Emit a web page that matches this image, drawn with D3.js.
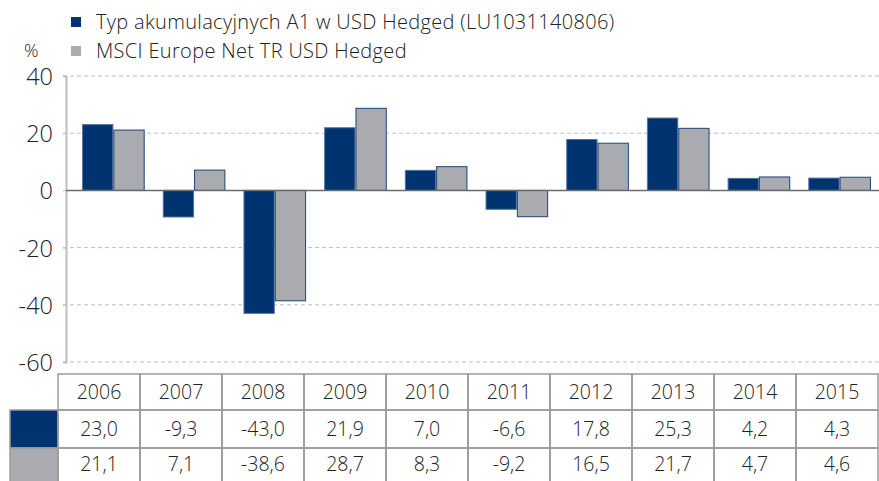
<!DOCTYPE html>
<html><head><meta charset="utf-8">
<script src="https://cdn.jsdelivr.net/npm/d3@7"></script>
<style>
html,body{margin:0;padding:0;background:#fff;}
svg text{font-family:"Open Sans","Liberation Sans",Arial,sans-serif;font-weight:300;fill:#222;}
</style></head>
<body>
<svg id="c" width="879" height="481"></svg>
<script>
const years = ["2006","2007","2008","2009","2010","2011","2012","2013","2014","2015"];
const fundValues = [23.0,-9.3,-43.0,21.9,7.0,-6.6,17.8,25.3,4.2,4.3];
const indexValues = [21.1,7.1,-38.6,28.7,8.3,-9.2,16.5,21.7,4.7,4.6];
const seriesNames = ["Typ akumulacyjnych A1 w USD Hedged (LU1031140806)","MSCI Europe Net TR USD Hedged"];
const yTicks = [40,20,0,-20,-40,-60];
const fundLabels = ["23,0","-9,3","-43,0","21,9","7,0","-6,6","17,8","25,3","4,2","4,3"];
const indexLabels = ["21,1","7,1","-38,6","28,7","8,3","-9,2","16,5","21,7","4,7","4,6"];

const colors = ["#003370","#a9abb0"];
const strokes = ["#4f73a3","#1d4478"];

const svg = d3.select("#c");
const y = d3.scaleLinear().domain([-60,40]).range([362,76]);
const x = d3.scaleBand().domain(years).range([64,889]).paddingInner(0.224).paddingOuter(0.224);
const xs = d3.scaleBand().domain([0,1]).range([0,x.bandwidth()]);

const plotL = 66, plotR = 879;

// gridlines
svg.append("g").selectAll("line").data(yTicks.filter(d=>d!==0)).join("line")
  .attr("x1",63).attr("x2",plotR).attr("y1",d=>y(d)).attr("y2",d=>y(d))
  .attr("stroke","#bdbdbd").attr("stroke-width",1).attr("stroke-dasharray","4,3");

// axis
const axis = d3.axisLeft(y).tickValues(yTicks).tickSize(3).tickFormat(d=>String(d));
const ag = svg.append("g").attr("transform",`translate(${plotL},0)`).call(axis);
ag.attr("font-family",null).attr("font-size",null);
ag.select(".domain").attr("stroke","#bdbdbd").attr("stroke-width",2);
ag.selectAll(".tick line").attr("stroke","#bdbdbd");
ag.selectAll(".tick text").attr("x",-13).attr("dy","0.36em")
  .style("font-size","23.5px").style("fill","#222");

// bars
const series = [fundValues,indexValues];
series.forEach((vals,si)=>{
  svg.append("g").selectAll("rect").data(vals).join("rect")
    .attr("x",(d,i)=>x(years[i])+xs(si)+0.5)
    .attr("width",xs.bandwidth()-1)
    .attr("y",d=>Math.min(y(d),y(0)))
    .attr("height",d=>Math.abs(y(d)-y(0)))
    .attr("fill",colors[si]).attr("stroke",strokes[si]).attr("stroke-width",1);
});

// zero line
svg.append("line").attr("x1",plotL).attr("x2",plotR).attr("y1",y(0)).attr("y2",y(0))
  .attr("stroke","#6b6b6b").attr("stroke-width",1.5);

// legend
const lg = svg.append("g");
seriesNames.forEach((n,i)=>{
  const cy = 22 + i*29;
  lg.append("rect").attr("x",71).attr("y",cy-5).attr("width",10).attr("height",10).attr("fill",colors[i]);
  lg.append("text").attr("x",96).attr("y",cy).attr("dy","0.36em").style("font-size","20px")
    .style("letter-spacing","0.33px").text(n);
});
svg.append("text").attr("x",24).attr("y",51).attr("dy","0.36em").style("font-size","18px").text("%");

// table
const tx = d3.scaleBand().domain(years).range([58,878]);
const rows = [374,410,448,486];
const tg = svg.append("g");
[fundValues,indexValues].forEach((v,i)=>{
  tg.append("rect").attr("x",10).attr("y",rows[i+1]).attr("width",48).attr("height",rows[i+2]-rows[i+1])
    .attr("fill",colors[i]).attr("stroke","#9a9a9a").attr("stroke-width",1.5);
});
years.forEach(yr=>{
  for(let r=0;r<3;r++){
    tg.append("rect").attr("x",tx(yr)).attr("y",rows[r]).attr("width",tx.bandwidth()).attr("height",rows[r+1]-rows[r])
      .attr("fill","none").attr("stroke","#9a9a9a").attr("stroke-width",1.5);
  }
});
const rowData = [years, fundLabels, indexLabels];
rowData.forEach((arr,r)=>{
  tg.append("g").selectAll("text").data(arr).join("text")
    .attr("x",(d,i)=>tx(years[i])+tx.bandwidth()/2)
    .attr("y",(rows[r]+Math.min(rows[r+1],481))/2 + (r===2?-1:0))
    .attr("dy","0.36em").attr("text-anchor","middle").style("font-size","19.5px")
    .text(d=>d);
});
</script>
</body></html>
